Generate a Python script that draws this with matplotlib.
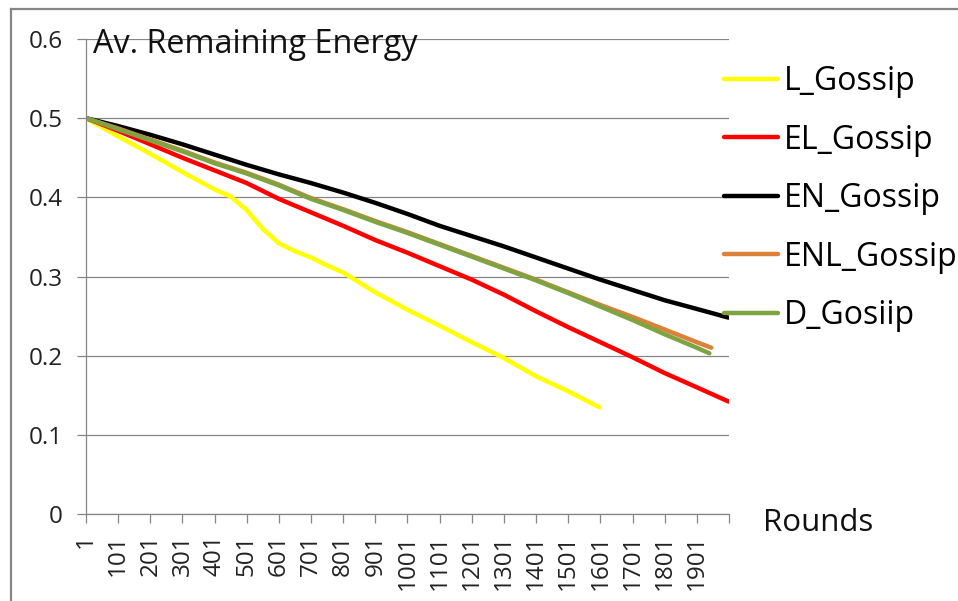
import matplotlib
matplotlib.use("Agg")
import matplotlib.pyplot as plt
from matplotlib.lines import Line2D

plt.rcParams['font.family'] = ['Open Sans', 'DejaVu Sans']

# rounds / values
l_rounds = [1, 101, 201, 301, 401, 451, 501, 551, 601, 651, 701, 751, 801, 901, 1001,
            1101, 1201, 1301, 1401, 1501, 1597]
l_gossip = [0.5, 0.477, 0.455, 0.432, 0.41, 0.401, 0.384, 0.36, 0.342, 0.332, 0.324, 0.314,
            0.305, 0.28, 0.258, 0.238, 0.217, 0.197, 0.174, 0.155, 0.135]

full_rounds = [1, 101, 201, 301, 401, 501, 601, 701, 801, 901, 1001, 1101, 1201, 1301,
               1401, 1501, 1601, 1701, 1801, 1901, 2000]
el_gossip = [0.5, 0.484, 0.467, 0.45, 0.434, 0.418, 0.398, 0.381, 0.364, 0.346, 0.33, 0.313,
             0.296, 0.277, 0.256, 0.236, 0.217, 0.198, 0.178, 0.16, 0.142]
en_gossip = [0.5, 0.49, 0.479, 0.467, 0.454, 0.441, 0.429, 0.418, 0.406, 0.393, 0.379, 0.364,
             0.351, 0.338, 0.324, 0.31, 0.296, 0.283, 0.27, 0.259, 0.248]

enl_rounds = [1, 101, 201, 301, 401, 501, 601, 701, 801, 901, 1001, 1101, 1201, 1301,
              1401, 1501, 1601, 1701, 1801, 1901, 1946]
enl_gossip = [0.5, 0.487, 0.473, 0.459, 0.444, 0.431, 0.416, 0.399, 0.385, 0.37, 0.356, 0.341,
              0.326, 0.311, 0.296, 0.28, 0.264, 0.249, 0.233, 0.217, 0.21]

d_rounds = [1, 101, 201, 301, 401, 501, 601, 701, 801, 901, 1001, 1101, 1201, 1301,
            1401, 1501, 1601, 1701, 1801, 1901, 1940]
d_gosiip = [0.5, 0.486, 0.472, 0.458, 0.443, 0.43, 0.415, 0.398, 0.384, 0.369, 0.355, 0.34,
            0.325, 0.31, 0.295, 0.279, 0.262, 0.245, 0.227, 0.21, 0.203]

xtick_labels = [str(r) for r in range(1, 2000, 100)]

grey = '#868686'

fig = plt.figure(figsize=(9.58, 6.01), dpi=100)
ax = fig.add_axes([86/958, 1-514/601, (729-86)/958, (514-39)/601])

lw = 3.2
ax.plot(l_rounds, l_gossip, color='#ffff00', lw=lw, label='L_Gossip', solid_capstyle='round')
ax.plot(full_rounds, el_gossip, color='#ff0000', lw=lw, label='EL_Gossip', solid_capstyle='round')
ax.plot(full_rounds, en_gossip, color='#000000', lw=lw, label='EN_Gossip', solid_capstyle='round')
ax.plot(enl_rounds, enl_gossip, color='#dd8038', lw=lw, label='ENL_Gossip', solid_capstyle='round')
ax.plot(d_rounds, d_gosiip, color='#7ea442', lw=lw, label='D_Gosiip', solid_capstyle='round')

ax.set_xlim(1, 2001)
ax.set_ylim(0, 0.6)
ax.set_yticks([0, 0.1, 0.2, 0.3, 0.4, 0.5, 0.6])
ax.set_yticklabels(['0', '0.1', '0.2', '0.3', '0.4', '0.5', '0.6'])
ax.set_xticks(list(range(1, 2002, 100)))
ax.set_xticklabels(xtick_labels + [''], rotation=90)
ax.grid(axis='y', color=grey, lw=0.9)
ax.set_axisbelow(True)
for s in ['top', 'right']:
    ax.spines[s].set_visible(False)
for s in ['left', 'bottom']:
    ax.spines[s].set_color(grey)
    ax.spines[s].set_linewidth(0.9)
ax.tick_params(axis='y', length=6.5, color=grey, width=0.9, labelsize=17.5, pad=10, labelcolor='#222222')
ax.tick_params(axis='x', length=6.5, color=grey, width=0.9, labelsize=17.5, pad=8, labelcolor='#222222')

fig.text(93/958, 1-53/601, 'Av. Remaining Energy', fontsize=23.3, va='baseline', color='#111111')
fig.text(763/958, 1-531/601, 'Rounds', fontsize=22.5, va='baseline', color='#111111')

fig.legend(loc='upper left', bbox_to_anchor=(724/958, 1-65/601), frameon=False,
           fontsize=23, handlelength=1.7, handletextpad=0.18, labelspacing=0.8,
           borderpad=0, borderaxespad=0)

# chart-area frame (only top and left edges visible)
fig.add_artist(Line2D([11/958, 1], [1-9/601, 1-9/601], color=grey, lw=1.6))
fig.add_artist(Line2D([11/958, 11/958], [0, 1-9/601], color=grey, lw=1.6))

fig.savefig('out.png', dpi=100)
